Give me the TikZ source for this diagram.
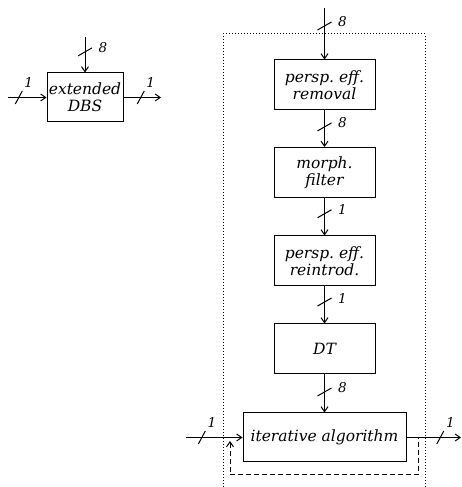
\documentclass[tikz,border=0pt]{standalone}
\usepackage{fontspec}
\setmainfont{DejaVu Serif}
\usetikzlibrary{decorations.markings, arrows.meta}
\tikzset{
  block/.style={draw, line width=1pt, align=center, inner sep=2pt, minimum height=50pt,
    font=\fontsize{15.5}{17}\selectfont\itshape},
  lbl/.style={inner sep=0pt, font=\fontsize{13.5}{16}\selectfont\itshape},
  vbus/.style 2 args={postaction={decorate}, decoration={markings,
    mark=at position #1 with {\draw[-,solid,line width=1pt] (4pt,-7pt) -- (-4pt,7pt);
      \node[lbl] at (-4pt,18pt) {#2};}}},
  hbus/.style 2 args={postaction={decorate}, decoration={markings,
    mark=at position #1 with {\draw[-,solid,line width=1pt] (-3.5pt,-6.5pt) -- (3.5pt,6.5pt);
      \node[lbl] at (10pt,15pt) {#2};}}}
}
\begin{document}
\begin{tikzpicture}[x=1pt, y=1pt, >={Straight Barb[length=5pt,width=7pt]}, line width=1pt]
        \useasboundingbox (0,0) rectangle (462,487);
        % extended DBS
        \node[block, minimum width=76pt, minimum height=49pt, inner sep=0pt] (dbs) at (85,389.5) {extended\\DBS};
        \coordinate (dbsin) at (8,389.5);
        \coordinate (dbsout) at (161,389.5);
        \coordinate (dbstop) at (85,450);
        \path[draw,->,hbus={0.28}{1}] (dbsin) -- (dbs);
        \path[draw,->,hbus={0.46}{1}] (dbs) -- (dbsout);
        \path[draw,->,vbus={0.42}{8}] (dbstop) -- (dbs);
        % chain
        \node[block, minimum width=101pt] (rem) at (324.5,402) {persp.\ eff.\\removal};
        \node[block, minimum width=101pt] (filt) at (324.5,314.5) {morph.\\filter};
        \node[block, minimum width=101pt] (reint) at (324.5,226) {persp.\ eff.\\reintrod.};
        \node[block, minimum width=101pt] (dt) at (324.5,138) {DT};
        \node[block, minimum width=163pt, minimum height=49pt] (iter) at (324.5,49.5) {iterative algorithm};
        \coordinate (top) at (324.5,479);
        \coordinate (iterin) at (186,49.5);
        \coordinate (iterout) at (461,49.5);
        \path[draw,->,vbus={0.35}{8}] (top) -- (rem);
        \path[draw,->,vbus={0.45}{8}] (rem) -- (filt);
        \path[draw,->,vbus={0.42}{1}] (filt) -- (reint);
        \path[draw,->,vbus={0.42}{1}] (reint) -- (dt);
        \path[draw,->,vbus={0.46}{8}] (dt) -- (iter);
        \path[draw,->,hbus={0.28}{1}] (iterin) -- (iter);
        \path[draw,->,hbus={0.62}{1}] (iter) -- (iterout);
        % feedback
        \coordinate (fbr) at (418,12);
        \coordinate (fbl) at (230,12);
        \coordinate (fbend) at (230,46);
        \path[draw,dash pattern=on 5pt off 3pt,->] (iter.east) -| (fbr) -- (fbl) -- (fbend);
        % frame
        \path[draw,dash pattern=on 1pt off 2pt] (223,0) -- (223,453) -- (425,453) -- (425,0);
    \end{tikzpicture}
\end{document}
